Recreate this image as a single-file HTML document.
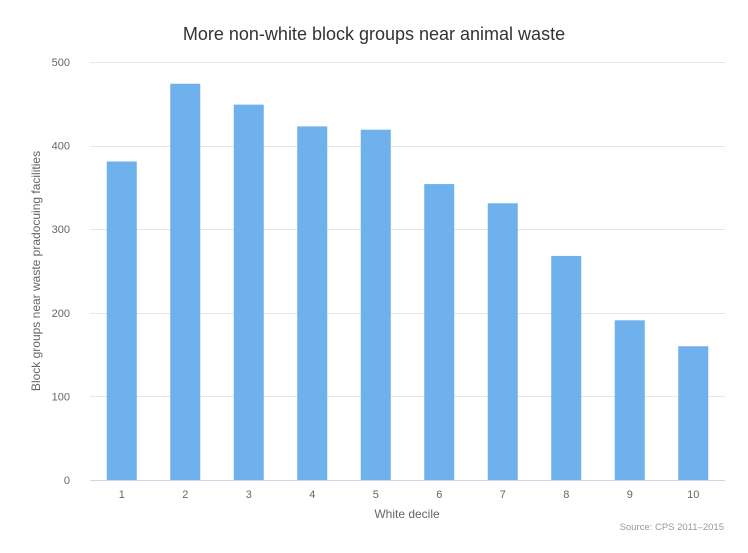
<!DOCTYPE html>
<html><head><meta charset="utf-8"><style>
body{margin:0;background:#fff;font-family:"Liberation Sans",sans-serif;}
svg text{font-family:"Liberation Sans",sans-serif;}
</style></head><body>
<svg id="c" width="748" height="548" xmlns="http://www.w3.org/2000/svg">
<text x="374" y="40" text-anchor="middle" font-size="18" fill="#333">More non-white block groups near animal waste</text>
<g id="grid"></g><g id="bars"></g><g id="xt"></g><g id="yt"></g>
<line x1="90" y1="480.5" x2="725" y2="480.5" stroke="#ccd6eb"/>
<text x="407" y="518" text-anchor="middle" font-size="12" fill="#666">White decile</text>
<text transform="translate(40,271) rotate(-90)" text-anchor="middle" font-size="12" fill="#666">Block groups near waste pradocuing facilities</text>
<text x="724" y="530" text-anchor="end" font-size="9.5" fill="#999">Source: CPS 2011–2015</text>
</svg>
<script>
const categories=["1","2","3","4","5","6","7","8","9","10"];
const values=[381,474,449,423,419,354,331,268,191,160];
const yTicks=[0,100,200,300,400,500];
const NS="http://www.w3.org/2000/svg";
const x0=90,x1=725,yBase=480,yTop=62,yMax=500;
const y=v=>yBase-(v/yMax)*(yBase-yTop);
const bw=(x1-x0)/categories.length;
const xc=i=>x0+bw*(i+0.5);
function mk(t,a,p){const e=document.createElementNS(NS,t);for(const k in a)e.setAttribute(k,a[k]);p.appendChild(e);return e;}
const grid=document.getElementById('grid'),yt=document.getElementById('yt');
yTicks.forEach(v=>{
 if(v>0){const l=mk('line',{x1:x0,x2:x1,y1:Math.round(y(v))+0.5,y2:Math.round(y(v))+0.5,stroke:'#e6e6e6'},grid);
 
 }
 const t=mk('text',{x:70,y:y(v)+4,'text-anchor':'end','font-size':11,fill:'#666'},yt);t.textContent=v;
 
 
});
const bars=document.getElementById('bars'),xt=document.getElementById('xt');
values.forEach((v,i)=>{
 const r=mk('rect',{x:xc(i)-15,y:y(v),width:30,height:yBase-y(v),fill:'#6fb1ec'},bars);
 
 
 const t=mk('text',{x:xc(i),y:498,'text-anchor':'middle','font-size':11,fill:'#666'},xt);t.textContent=categories[i];
 
 
});
</script>
</body></html>
